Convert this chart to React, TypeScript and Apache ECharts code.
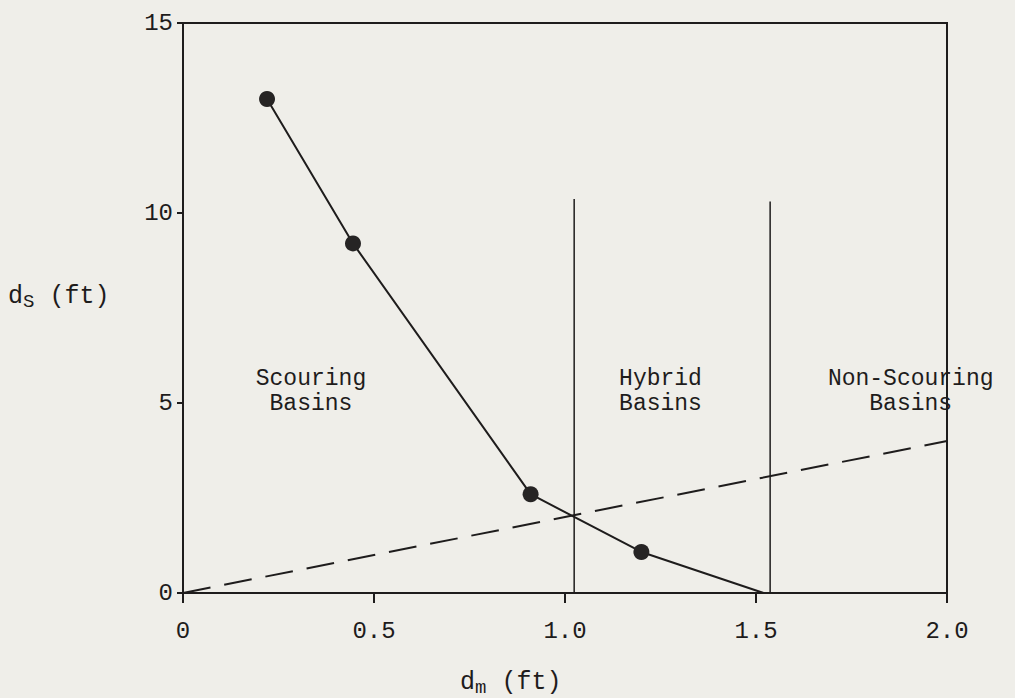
import React, { useEffect, useRef } from "react";
import * as echarts from "echarts";

// Scour curve points (dm, ds)
const scourCurve: [number, number][] = [
  [0.22, 13.0],
  [0.445, 9.2],
  [0.91, 2.6],
  [1.2, 1.08],
  [1.52, 0],
];
const markerPoints: [number, number][] = [
  [0.22, 13.0],
  [0.445, 9.2],
  [0.91, 2.6],
  [1.2, 1.08],
];
// Dashed boundary line ds = 2 dm
const dashedLine: [number, number][] = [
  [0, 0],
  [2.0, 4.0],
];
// Vertical boundaries between basin types
const boundaryHybrid: [number, number][] = [
  [1.024, 0],
  [1.024, 10.37],
];
const boundaryNonScouring: [number, number][] = [
  [1.537, 0],
  [1.537, 10.3],
];
// Region annotations [x, y, text]
const regionLabels: [number, number, string][] = [
  [0.335, 5.3, "Scouring\nBasins"],
  [1.25, 5.3, "Hybrid\nBasins"],
  [1.905, 5.3, "Non-Scouring\nBasins"],
];
const xTicks = [0, 0.5, 1.0, 1.5, 2.0];
const yTicks = [0, 5, 10, 15];

const FONT = "Liberation Mono";
const INK = "#1e1c1c";
const BG = "#efeee9";

export default function App() {
  const ref = useRef<HTMLDivElement>(null);
  useEffect(() => {
    if (!ref.current) return;
    const chart = echarts.init(ref.current, undefined, { renderer: "svg" });
    const lineStyleSolid = { color: INK, width: 2 };
    chart.setOption({
      animation: false,
      backgroundColor: BG,
      grid: {
        left: 183,
        top: 23,
        right: 68,
        bottom: 105,
        show: true,
        borderColor: INK,
        borderWidth: 2,
        backgroundColor: "transparent",
      },
      xAxis: {
        type: "value",
        min: 0,
        max: 2,
        interval: 0.5,
        axisLine: { show: true, lineStyle: { color: INK, width: 2 } },
        axisTick: { show: true, length: 10, lineStyle: { color: INK, width: 2 } },
        splitLine: { show: false },
        axisLabel: {
          margin: 26,
          color: INK,
          fontFamily: FONT,
          fontSize: 24,
          formatter: (v: number) => (xTicks.indexOf(v) === 0 ? "0" : v.toFixed(1)),
        },
      },
      yAxis: {
        type: "value",
        min: 0,
        max: 15,
        interval: 5,
        axisLine: { show: true, lineStyle: { color: INK, width: 2 } },
        axisTick: { show: true, length: 6, lineStyle: { color: INK, width: 2 } },
        splitLine: { show: false },
        axisLabel: {
          margin: 10,
          color: INK,
          fontFamily: FONT,
          fontSize: 24,
          formatter: (v: number) => (yTicks.indexOf(v) >= 0 ? String(v) : ""),
        },
      },
      graphic: [
        {
          type: "text",
          left: 8,
          top: 284,
          style: {
            text: "{b|d}{s|S}{b| (ft)}",
            rich: {
              b: { fontFamily: FONT, fontSize: 25, fill: INK },
              s: { fontFamily: FONT, fontSize: 19, fill: INK, padding: [10, 0, 0, 0] },
            },
          },
        },
        {
          type: "text",
          left: 460,
          top: 670,
          style: {
            text: "{b|d}{s|m}{b| (ft)}",
            rich: {
              b: { fontFamily: FONT, fontSize: 25, fill: INK },
              s: { fontFamily: FONT, fontSize: 19, fill: INK, padding: [10, 0, 0, 0] },
            },
          },
        },
      ],
      series: [
        {
          type: "line",
          data: dashedLine,
          symbol: "none",
          lineStyle: { color: INK, width: 2, type: [28, 14] },
          z: 2,
        },
        {
          type: "line",
          data: boundaryHybrid,
          symbol: "none",
          lineStyle: { color: INK, width: 1.5 },
          z: 2,
        },
        {
          type: "line",
          data: boundaryNonScouring,
          symbol: "none",
          lineStyle: { color: INK, width: 1.5 },
          z: 2,
        },
        {
          type: "line",
          data: scourCurve,
          symbol: "none",
          lineStyle: lineStyleSolid,
          z: 3,
        },
        {
          type: "scatter",
          data: markerPoints,
          symbol: "circle",
          symbolSize: 16,
          itemStyle: { color: "#262424", opacity: 1 },
          z: 4,
        },
        {
          type: "scatter",
          data: regionLabels.map((r) => ({ value: [r[0], r[1]], name: r[2] })),
          symbolSize: 0,
          silent: true,
          itemStyle: { opacity: 1 },
          label: {
            show: true,
            position: "inside",
            formatter: (p: any) => p.name,
            fontFamily: FONT,
            fontSize: 23,
            lineHeight: 25,
            color: INK,
            opacity: 1,
            align: "center",
            verticalAlign: "middle",
          },
          z: 5,
        },
      ],
    });
    return () => chart.dispose();
  }, []);
  return (
    <div
      ref={ref}
      style={{ position: "fixed", left: 0, top: 0, width: 1015, height: 698, background: BG }}
    />
  );
}
